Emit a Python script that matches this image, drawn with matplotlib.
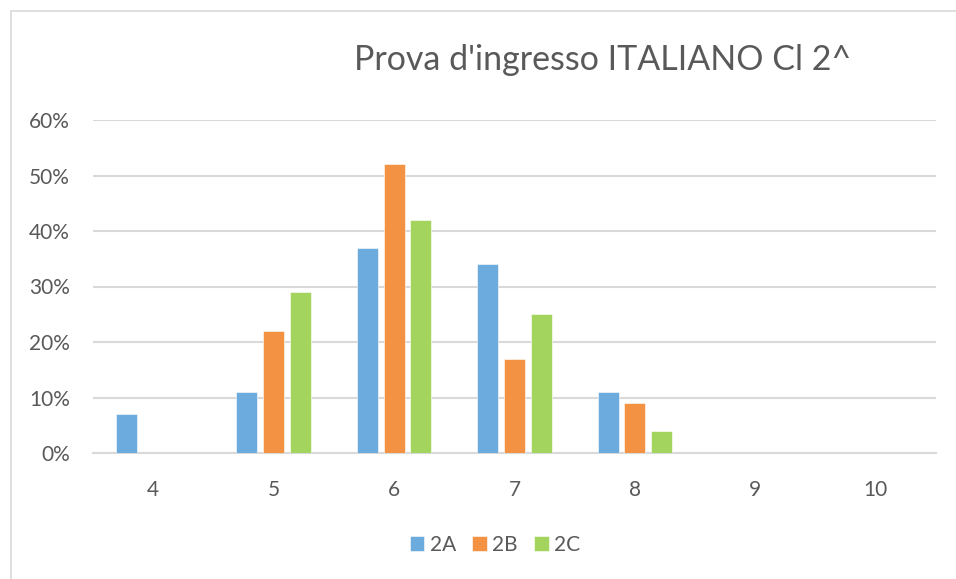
import numpy as np
import matplotlib
matplotlib.use('Agg')
import matplotlib.pyplot as plt
from matplotlib.patches import Rectangle
from matplotlib.ticker import PercentFormatter

# data
voti = ['4', '5', '6', '7', '8', '9', '10']
classi = ['2A', '2B', '2C']
val_2A = [0.07, 0.11, 0.37, 0.34, 0.11, 0.0, 0.0]
val_2B = [0.0, 0.22, 0.52, 0.17, 0.09, 0.0, 0.0]
val_2C = [0.0, 0.29, 0.42, 0.25, 0.04, 0.0, 0.0]
colori = ['#6CABDD', '#F39242', '#A2D45E']
titolo = "Prova d'ingresso ITALIANO Cl 2^"

plt.rcParams['font.family'] = ['Lato', 'DejaVu Sans']

W, H = 956, 579
fig = plt.figure(figsize=(W / 100, H / 100), dpi=100)

# chart area border (Excel style)
fig.patches.append(Rectangle((11 / W, -0.1), 1.2, 1 - 11 / H + 0.1,
                             transform=fig.transFigure, fill=False,
                             edgecolor='#D9D9D9', linewidth=1.2))

ax = fig.add_axes([93 / W, 1 - 453 / H, (936 - 93) / W, (453 - 120) / H])

x = np.arange(len(voti))
passo = 0.222
larg = 0.174
for i, (serie, col, nome) in enumerate(zip([val_2A, val_2B, val_2C], colori, classi)):
    ax.bar(x + (i - 1) * passo, serie, width=larg, color=col,
           edgecolor='#FFFFFF', linewidth=0.4, label=nome, zorder=3)

ax.set_xlim(-0.5, len(voti) - 0.5)
ax.set_ylim(0, 0.6)
ax.set_yticks(np.arange(0, 0.61, 0.1))
ax.yaxis.set_major_formatter(PercentFormatter(1.0, decimals=0))
ax.set_xticks(x)
ax.set_xticklabels(voti)
ax.grid(axis='y', color='#D9D9D9', linewidth=1.5, zorder=0)
for s in ['top', 'right', 'left']:
    ax.spines[s].set_visible(False)
ax.spines['bottom'].set_color('#D9D9D9')
ax.spines['bottom'].set_linewidth(1.5)
ax.tick_params(axis='both', length=0, labelsize=15, labelcolor='#595959')
ax.tick_params(axis='y', pad=16.5)
ax.tick_params(axis='x', pad=19.5)

fig.text(603 / W, 1 - 60 / H, titolo, ha='center', va='center',
         fontsize=24.5, color='#595959', fontweight='normal')

fig.legend(loc='center', bbox_to_anchor=(495 / W, 1 - 545 / H), ncol=3,
           frameon=False, handlelength=0.7, handleheight=0.7,
           handletextpad=0.25, columnspacing=0.8,
           fontsize=15, labelcolor='#595959')

fig.savefig('out.png', dpi=100)
